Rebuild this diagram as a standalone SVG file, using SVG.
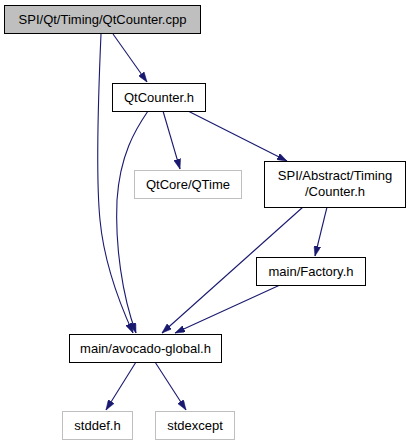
<svg xmlns="http://www.w3.org/2000/svg" width="409" height="445" viewBox="0 0 409 445">
<style>
.n rect{fill:#fff;stroke:#000;stroke-width:1}
.g rect{fill:#fff;stroke:#bfbfbf;stroke-width:1}
text{font-family:"Liberation Sans",Arial,sans-serif;font-size:13px;fill:#000;text-anchor:middle}
.e path{fill:none;stroke:#191970;stroke-width:1.1}
</style>
<defs>
<marker id="a" viewBox="0 0 10 7" refX="10" refY="3.5" markerWidth="10" markerHeight="7" markerUnits="userSpaceOnUse" orient="auto">
<path d="M0,0 L10,3.5 L0,7 Z" fill="#191970" stroke="#191970" stroke-width="0.5"/>
</marker>
</defs>
<rect width="409" height="445" fill="#fff"/>
<g class="e">
<path d="M113,34 L147,82" marker-end="url(#a)"/>
<path d="M101,34 C99,80 95,170 100,220 C104,262 118,300 133,333" marker-end="url(#a)"/>
<path d="M148,111 C135,130 120,155 117,200 C115,245 122,295 136,333" marker-end="url(#a)"/>
<path d="M163,111 L180,169" marker-end="url(#a)"/>
<path d="M188,111 L287,161" marker-end="url(#a)"/>
<path d="M303,207 L162,333" marker-end="url(#a)"/>
<path d="M327,207 L315,256" marker-end="url(#a)"/>
<path d="M280,285 L175,333" marker-end="url(#a)"/>
<path d="M136,362 L106,410" marker-end="url(#a)"/>
<path d="M155,362 L186,410" marker-end="url(#a)"/>
</g>
<g id="node1" class="n"><rect x="4.5" y="5.5" width="196" height="28" style="fill:#bfbfbf"/><text x="102.5" y="24">SPI/Qt/Timing/QtCounter.cpp</text></g>
<g id="node2" class="n"><rect x="112.5" y="83.5" width="93" height="28"/><text x="159" y="102">QtCounter.h</text></g>
<g id="node3" class="g"><rect x="134.5" y="170.5" width="107" height="28"/><text x="188" y="189">QtCore/QTime</text></g>
<g id="node4" class="n"><rect x="264.5" y="161.5" width="141" height="46"/><text x="335" y="179.5">SPI/Abstract/Timing</text><text x="335" y="195.5">/Counter.h</text></g>
<g id="node5" class="n"><rect x="256.5" y="257.5" width="109" height="28"/><text x="311" y="276">main/Factory.h</text></g>
<g id="node6" class="n"><rect x="69.5" y="334.5" width="152" height="28"/><text x="145.5" y="353">main/avocado-global.h</text></g>
<g id="node7" class="g"><rect x="62.5" y="411.5" width="70" height="28"/><text x="97.5" y="430">stddef.h</text></g>
<g id="node8" class="g"><rect x="155.5" y="411.5" width="79" height="28"/><text x="195" y="430">stdexcept</text></g>
</svg>
